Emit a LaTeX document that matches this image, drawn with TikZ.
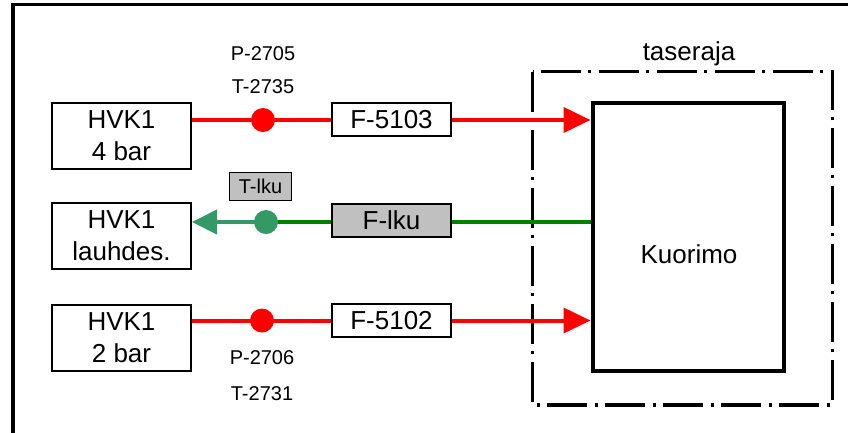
\documentclass[tikz,border=0pt]{standalone}
\usepackage{fontspec}
\setmainfont{Liberation Sans}
\usetikzlibrary{arrows.meta}
\definecolor{lred}{HTML}{FF0000}
\definecolor{dgreen}{HTML}{008000}
\definecolor{lgreen}{HTML}{339966}
\definecolor{boxgray}{HTML}{C0C0C0}
\begin{document}
\begin{tikzpicture}[x=1pt,y=-1pt,
  big/.style={font=\fontsize{26}{32}\selectfont},
  small/.style={font=\fontsize{20}{24}\selectfont},
  srcbox/.style={draw,line width=2pt,minimum width=139pt,minimum height=66pt,inner sep=0pt,align=center,big},
  tagbox/.style={draw,line width=2pt,minimum width=119pt,minimum height=33pt,inner sep=0pt,big},
  reddot/.style={circle,fill=lred,inner sep=0pt,minimum size=24pt},
  greendot/.style={circle,fill=lgreen,inner sep=0pt,minimum size=24pt},
  redline/.style={draw=lred,line width=4pt},
  tip/.style={-{Triangle[length=27pt,width=25pt]}},
  lbl/.style={small,anchor=base,inner sep=0pt},
]
\useasboundingbox (0,0) rectangle (848,432);
\fill[white] (0,0) rectangle (848,432);
\begin{scope}
\clip (0,0) rectangle (848,432);
\draw[line width=3.5pt] (13,460) -- (13,4.3) -- (870,4.3);
\end{scope}

% boundary
\draw[line width=3.5pt,dash pattern=on 40pt off 7.5pt on 3pt off 7.5pt]
  (532.7,71.7) rectangle (832.3,405);
\node[big,anchor=base,inner sep=0pt] (tas) at (689,60) {taseraja};

% Kuorimo
\node[draw,line width=4pt,minimum width=191pt,minimum height=268pt,big] (kuo) at (688,237) {};
\node[big,anchor=base,inner sep=0pt] (kuot) at (689,263.3) {Kuorimo};

% sources
\node[srcbox] (h1) at (121.5,135.5) {HVK1\\4 bar};
\node[srcbox] (h2) at (121.5,236) {HVK1\\lauhdes.};
\node[srcbox] (h3) at (121.5,337.7) {HVK1\\2 bar};

% filters
\node[tagbox] (f1) at (391.5,119.5) {F-5103};
\node[tagbox,fill=boxgray] (f2) at (391.5,220) {F-lku};
\node[tagbox] (f3) at (391.5,320.5) {F-5102};

% dots
\coordinate (c1) at (263,120);
\coordinate (c2) at (266,222);
\coordinate (c3) at (262,320.5);

% row 1
\draw[redline] (h1.east |- c1) -- (c1);
\draw[redline] (c1) -- (f1.west |- c1);
\draw[redline,tip] (f1.east |- c1) -- (kuo.west |- c1);
\node[reddot] (d1) at (c1) {};
% row 3
\draw[redline] (h3.east |- c3) -- (c3);
\draw[redline] (c3) -- (f3.west |- c3);
\draw[redline,tip] (f3.east |- c3) -- (kuo.west |- c3);
\node[reddot] (d3) at (c3) {};
% row 2
\draw[draw=dgreen,line width=4pt] (kuo.west |- c2) -- (f2.east |- c2);
\draw[draw=dgreen,line width=4pt] (f2.west |- c2) -- (c2);
\draw[draw=lgreen,line width=4pt,-{Triangle[length=25pt,width=24pt]}] (c2) -- (h2.east |- c2);
\node[greendot] (d2) at (c2) {};

% labels
\node[draw,line width=1.5pt,fill=boxgray,minimum width=62pt,minimum height=28pt,inner sep=0pt,small] (tl) at (260.5,186.5) {T-lku};
\node[lbl] (p1) at (263,60.7) {P-2705};
\node[lbl] (t1) at (263,93.3) {T-2735};
\node[lbl] (p3) at (262,364.3) {P-2706};
\node[lbl] (t3) at (262,400) {T-2731};
\end{tikzpicture}
\end{document}
